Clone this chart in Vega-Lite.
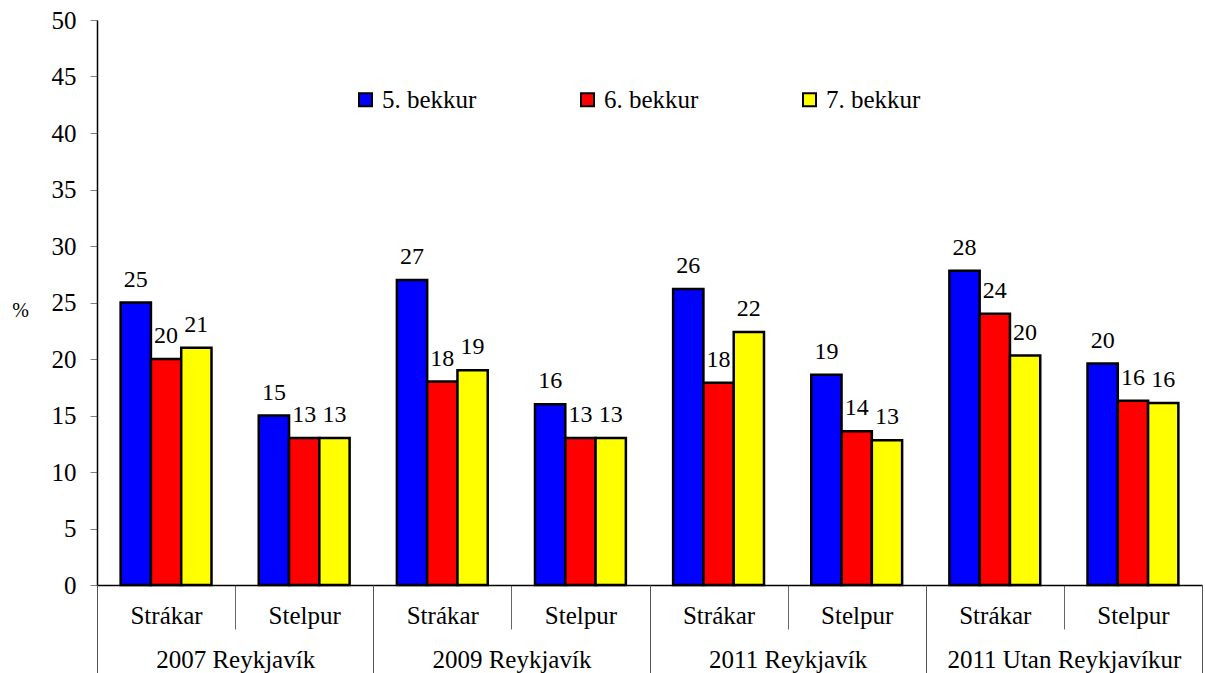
{
  "$schema": "https://vega.github.io/schema/vega-lite/v6.json",
  "width": 1105,
  "height": 565,
  "autosize": {"type": "none"},
  "padding": {"left": 97, "top": 20, "right": 3, "bottom": 88},
  "background": "white",
  "config": {
    "font": "Liberation Serif",
    "view": {"stroke": null},
    "axis": {"grid": false, "labelColor": "black", "titleColor": "black", "labelFont": "Liberation Serif", "titleFont": "Liberation Serif"},
    "legend": {"labelFont": "Liberation Serif"},
    "text": {"font": "Liberation Serif"}
  },
  "data": {
    "values": [
      {"cat": "2007 Reykjavík|Strákar", "group": "2007 Reykjavík", "sex": "Strákar", "grade": "5. bekkur", "value": 25},
      {"cat": "2007 Reykjavík|Strákar", "group": "2007 Reykjavík", "sex": "Strákar", "grade": "6. bekkur", "value": 20},
      {"cat": "2007 Reykjavík|Strákar", "group": "2007 Reykjavík", "sex": "Strákar", "grade": "7. bekkur", "value": 21},
      {"cat": "2007 Reykjavík|Stelpur", "group": "2007 Reykjavík", "sex": "Stelpur", "grade": "5. bekkur", "value": 15},
      {"cat": "2007 Reykjavík|Stelpur", "group": "2007 Reykjavík", "sex": "Stelpur", "grade": "6. bekkur", "value": 13},
      {"cat": "2007 Reykjavík|Stelpur", "group": "2007 Reykjavík", "sex": "Stelpur", "grade": "7. bekkur", "value": 13},
      {"cat": "2009 Reykjavík|Strákar", "group": "2009 Reykjavík", "sex": "Strákar", "grade": "5. bekkur", "value": 27},
      {"cat": "2009 Reykjavík|Strákar", "group": "2009 Reykjavík", "sex": "Strákar", "grade": "6. bekkur", "value": 18},
      {"cat": "2009 Reykjavík|Strákar", "group": "2009 Reykjavík", "sex": "Strákar", "grade": "7. bekkur", "value": 19},
      {"cat": "2009 Reykjavík|Stelpur", "group": "2009 Reykjavík", "sex": "Stelpur", "grade": "5. bekkur", "value": 16},
      {"cat": "2009 Reykjavík|Stelpur", "group": "2009 Reykjavík", "sex": "Stelpur", "grade": "6. bekkur", "value": 13},
      {"cat": "2009 Reykjavík|Stelpur", "group": "2009 Reykjavík", "sex": "Stelpur", "grade": "7. bekkur", "value": 13},
      {"cat": "2011 Reykjavík|Strákar", "group": "2011 Reykjavík", "sex": "Strákar", "grade": "5. bekkur", "value": 26.2},
      {"cat": "2011 Reykjavík|Strákar", "group": "2011 Reykjavík", "sex": "Strákar", "grade": "6. bekkur", "value": 17.9},
      {"cat": "2011 Reykjavík|Strákar", "group": "2011 Reykjavík", "sex": "Strákar", "grade": "7. bekkur", "value": 22.4},
      {"cat": "2011 Reykjavík|Stelpur", "group": "2011 Reykjavík", "sex": "Stelpur", "grade": "5. bekkur", "value": 18.6},
      {"cat": "2011 Reykjavík|Stelpur", "group": "2011 Reykjavík", "sex": "Stelpur", "grade": "6. bekkur", "value": 13.6},
      {"cat": "2011 Reykjavík|Stelpur", "group": "2011 Reykjavík", "sex": "Stelpur", "grade": "7. bekkur", "value": 12.8},
      {"cat": "2011 Utan Reykjavíkur|Strákar", "group": "2011 Utan Reykjavíkur", "sex": "Strákar", "grade": "5. bekkur", "value": 27.8},
      {"cat": "2011 Utan Reykjavíkur|Strákar", "group": "2011 Utan Reykjavíkur", "sex": "Strákar", "grade": "6. bekkur", "value": 24.0},
      {"cat": "2011 Utan Reykjavíkur|Strákar", "group": "2011 Utan Reykjavíkur", "sex": "Strákar", "grade": "7. bekkur", "value": 20.3},
      {"cat": "2011 Utan Reykjavíkur|Stelpur", "group": "2011 Utan Reykjavíkur", "sex": "Stelpur", "grade": "5. bekkur", "value": 19.6},
      {"cat": "2011 Utan Reykjavíkur|Stelpur", "group": "2011 Utan Reykjavíkur", "sex": "Stelpur", "grade": "6. bekkur", "value": 16.3},
      {"cat": "2011 Utan Reykjavíkur|Stelpur", "group": "2011 Utan Reykjavíkur", "sex": "Stelpur", "grade": "7. bekkur", "value": 16.1}
    ]
  },
  "layer": [
    {
      "encoding": {
        "x": {
          "field": "cat", "type": "nominal", "sort": null,
          "scale": {"paddingInner": 0, "paddingOuter": 0},
          "axis": {
            "title": null,
            "labelExpr": "split(datum.label, '|')[1]",
            "labelAngle": 0,
            "labelFontSize": 25,
            "labelPadding": -26,
            "labelLimit": 0,
            "tickBand": "extent",
            "tickSize": 44,
            "tickColor": "#666666",
            "tickWidth": 1,
            "domainColor": "black",
            "domainWidth": 1.5
          }
        },
        "xOffset": {
          "field": "grade", "type": "nominal",
          "scale": {"paddingInner": 0, "paddingOuter": 0.78}
        },
        "y": {
          "field": "value", "type": "quantitative",
          "scale": {"domain": [0, 50], "nice": false},
          "axis": {
            "values": [0, 5, 10, 15, 20, 25, 30, 35, 40, 45, 50],
            "title": "%",
            "titleAngle": 0,
            "titleX": -77,
            "titleY": 290,
            "titleAlign": "center",
            "titleBaseline": "middle",
            "titleFontSize": 20,
            "titleFontWeight": "normal",
            "labelFontSize": 25,
            "labelPadding": 14,
            "tickSize": 7,
            "tickColor": "#808080",
            "domainColor": "black",
            "domainWidth": 1.5
          }
        }
      },
      "layer": [
        {
          "mark": {"type": "bar", "stroke": "black", "strokeWidth": 2.5},
          "encoding": {
            "fill": {
              "field": "grade", "type": "nominal",
              "scale": {"domain": ["5. bekkur", "6. bekkur", "7. bekkur"], "range": ["#0000FF", "#FF0000", "#FFFF00"]},
              "legend": {
                "title": null,
                "orient": "none",
                "legendX": 256,
                "legendY": 67,
                "direction": "horizontal",
                "padding": 0,
                "symbolType": "square",
                "symbolSize": 169,
                "symbolStrokeColor": "black",
                "symbolStrokeWidth": 2,
                "symbolOpacity": 1,
                "labelFontSize": 25,
                "labelOffset": 4,
                "labelColor": "black",
                "labelLimit": 0,
                "columnPadding": 98
              }
            }
          }
        },
        {
          "mark": {"type": "text", "fontSize": 24, "baseline": "alphabetic", "dy": -16, "color": "black"},
          "encoding": {
            "text": {"field": "value", "type": "quantitative", "format": ".0f"}
          }
        }
      ]
    },
    {
      "mark": {"type": "rule", "opacity": 0},
      "encoding": {
        "x": {
          "field": "group", "type": "nominal", "sort": null,
          "scale": {"paddingInner": 0, "paddingOuter": 0},
          "axis": {
            "title": null,
            "orient": "bottom",
            "labelAngle": 0,
            "labelFontSize": 25,
            "labelPadding": -26,
            "labelLimit": 0,
            "tickBand": "extent",
            "tickSize": 88,
            "tickColor": "#555555",
            "tickWidth": 1,
            "domain": false
          }
        }
      }
    }
  ],
  "resolve": {"scale": {"x": "independent"}, "axis": {"x": "independent"}}
}
